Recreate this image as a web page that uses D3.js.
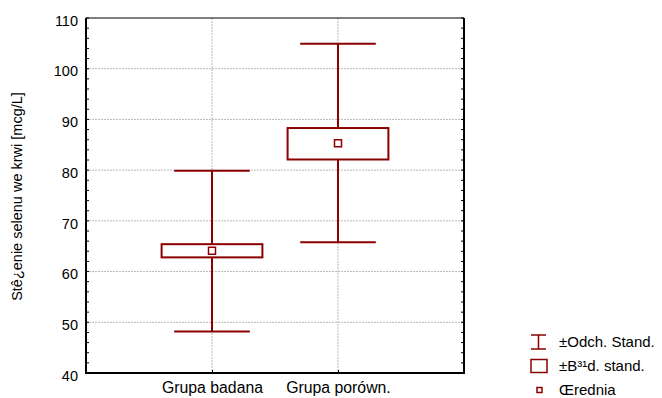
<!DOCTYPE html>
<html>
<head>
<meta charset="utf-8">
<script src="https://cdnjs.cloudflare.com/ajax/libs/d3/7.8.5/d3.min.js"></script>
<style>
  body { margin: 0; background: #fff; }
  text { font-family: "Liberation Sans", Arial, sans-serif; fill: #000; }
</style>
</head>
<body>
<script>
// data
var groups   = ["Grupa badana", "Grupa porówn."];
var means    = [64.1, 85.3];
var seLow    = [62.8, 82.1];
var seHigh   = [65.4, 88.3];
var sdLow    = [48.2, 65.8];
var sdHigh   = [79.9, 104.9];
var yTicks   = [40, 50, 60, 70, 80, 90, 100, 110];
var legendLabels = ["±Odch. Stand.", "±B³¹d. stand.", "Œrednia"];

var red = "#8b0000";
var margin = {top: 18, right: 198, bottom: 25, left: 86},
    width = 662 - margin.left - margin.right,
    height = 398 - margin.top - margin.bottom;

var svg = d3.select("body").append("svg")
    .attr("width", 662)
    .attr("height", 398)
  .append("g")
    .attr("transform", "translate(" + margin.left + "," + margin.top + ")");

var x = d3.scalePoint().domain(groups).range([0, width]).padding(1);
var y = d3.scaleLinear().domain([40, 110]).range([height, 0]);
var band = width / 3;

// grid lines
svg.selectAll(".hgrid")
    .data(yTicks.slice(1, -1))
  .enter().append("line")
    .attr("x1", 0).attr("x2", width)
    .attr("y1", function(d) { return y(d); })
    .attr("y2", function(d) { return y(d); })
    .style("stroke", "#b8b8b8")
    .style("stroke-dasharray", "2,1");
svg.selectAll(".vgrid")
    .data(groups)
  .enter().append("line")
    .attr("x1", function(d) { return x(d); })
    .attr("x2", function(d) { return x(d); })
    .attr("y1", 0).attr("y2", height)
    .style("stroke", "#b8b8b8")
    .style("stroke-dasharray", "2,1");

// minor ticks, inward on both sides
var minor = d3.range(40, 111, 2);
svg.selectAll(".mtl").data(minor).enter().append("line")
    .attr("x1", 0).attr("x2", 3)
    .attr("y1", function(d) { return y(d); }).attr("y2", function(d) { return y(d); })
    .style("stroke", "#000");
svg.selectAll(".mtr").data(minor).enter().append("line")
    .attr("x1", width - 3).attr("x2", width)
    .attr("y1", function(d) { return y(d); }).attr("y2", function(d) { return y(d); })
    .style("stroke", "#000");

// y axis labels
var yAxis = svg.append("g")
    .call(d3.axisLeft(y).tickValues(yTicks).tickSize(0).tickPadding(8));
yAxis.select(".domain").remove();
yAxis.selectAll("text").style("font-size", "14.5px").attr("dy", "0.5em");

// x axis
var xAxis = svg.append("g")
    .attr("transform", "translate(0," + height + ")")
    .call(d3.axisBottom(x).tickSizeInner(-3).tickSizeOuter(0).tickPadding(9));
xAxis.select(".domain").remove();
xAxis.selectAll("text").style("font-size", "15.8px");

// frame
svg.append("path")
    .attr("d", "M0,0V" + height + "H" + width + "V0")
    .style("fill", "none").style("stroke", "#000").style("stroke-width", 2);
svg.append("line")
    .attr("x1", 0).attr("x2", width).attr("y1", 0).attr("y2", 0)
    .style("stroke", "#000").style("stroke-width", 1);

// whiskers (sd)
var g = svg.selectAll(".grp")
    .data(groups)
  .enter().append("g");
g.append("line")
    .attr("x1", function(d) { return x(d); })
    .attr("x2", function(d) { return x(d); })
    .attr("y1", function(d, i) { return y(sdHigh[i]); })
    .attr("y2", function(d, i) { return y(sdLow[i]); })
    .style("stroke", red).style("stroke-width", 2);
[sdLow, sdHigh].forEach(function(arr) {
  g.append("line")
      .attr("x1", function(d) { return x(d) - band * 0.3; })
      .attr("x2", function(d) { return x(d) + band * 0.3; })
      .attr("y1", function(d, i) { return y(arr[i]); })
      .attr("y2", function(d, i) { return y(arr[i]); })
      .style("stroke", red).style("stroke-width", 2);
});
// boxes (se)
g.append("rect")
    .attr("x", function(d) { return x(d) - band * 0.4; })
    .attr("width", band * 0.8)
    .attr("y", function(d, i) { return y(seHigh[i]); })
    .attr("height", function(d, i) { return y(seLow[i]) - y(seHigh[i]); })
    .style("fill", "#fff").style("stroke", red).style("stroke-width", 2);
// mean
g.append("rect")
    .attr("x", function(d) { return x(d) - 3.5; })
    .attr("y", function(d, i) { return y(means[i]) - 3.5; })
    .attr("width", 7).attr("height", 7)
    .style("fill", "#fff").style("stroke", red).style("stroke-width", 1.5);

// y title
svg.append("text")
    .attr("transform", "translate(" + (17 - margin.left) + "," + (height / 2 + 1) + ") rotate(-90)")
    .attr("text-anchor", "middle")
    .attr("dy", "0.35em")
    .style("font-size", "14.5px")
    .text("Stê¿enie selenu we krwi [mcg/L]");

// legend
var lg = d3.select("svg").append("g").attr("transform", "translate(531,342)");
var item = lg.selectAll(".leg").data(legendLabels).enter().append("g")
    .attr("transform", function(d, i) { return "translate(0," + (i * 24) + ")"; });
item.append("text")
    .attr("x", 28).attr("dy", "0.36em")
    .style("font-size", "15px")
    .text(function(d) { return d; });
item.filter(function(d, i) { return i === 0; }).append("path")
    .attr("d", "M0,-7H15M0,7H15M7.5,-7V7")
    .style("stroke", red).style("stroke-width", 1.5).style("fill", "none");
item.filter(function(d, i) { return i === 1; }).append("rect")
    .attr("x", 0).attr("y", -6.5).attr("width", 16).attr("height", 13)
    .style("fill", "#fff").style("stroke", red).style("stroke-width", 1.5);
item.filter(function(d, i) { return i === 2; }).append("rect")
    .attr("x", 6).attr("y", -2.5).attr("width", 5).attr("height", 5)
    .style("fill", "#fff").style("stroke", red).style("stroke-width", 1.5);
</script>
</body>
</html>
